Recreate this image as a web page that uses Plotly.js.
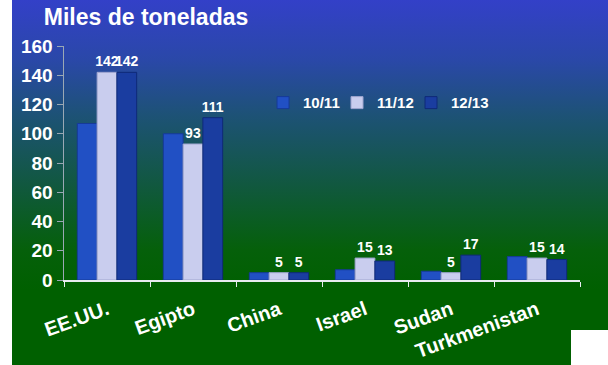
<!DOCTYPE html>
<html>
<head>
<meta charset="utf-8">
<script src="https://cdn.plot.ly/plotly-3.0.1.min.js"></script>
<style>
html,body{margin:0;padding:0;background:#ffffff;}
#wrap{position:relative;width:608px;height:365px;background:#ffffff;}
#bg{position:absolute;left:12px;top:0;width:596px;height:365px;
 background:linear-gradient(to bottom,#3340c8 0px,#2a48a8 60px,#1d5276 115px,#11583f 185px,#05600a 250px,#006000 290px,#006000 365px);}
#logo{position:absolute;left:571px;top:330px;width:37px;height:35px;background:#ffffff;}
#chart{position:absolute;left:0;top:0;width:608px;height:365px;}
</style>
</head>
<body>
<div id="wrap"><div id="bg"></div><div id="logo"></div><div id="chart"></div></div>
<script>
const categories = ["EE.UU.", "Egipto", "China", "Israel", "Sudan", "Turkmenistan"];
const seriesNames = ["10/11", "11/12", "12/13"];
const v1011 = [107, 100, 5, 7, 6, 16];
const v1112 = [142, 93, 5, 15, 5, 15];
const v1213 = [142, 111, 5, 13, 17, 14];
const yTicks = [0, 20, 40, 60, 80, 100, 120, 140, 160];

const labelFont = {family: "Liberation Sans, Arial, sans-serif", size: 14, color: "#ffffff", weight: "bold"};
const legFont = {size: 15, color: "#ffffff", weight: "bold"};

const traces = [
  {type: "bar", name: seriesNames[0], x: categories, y: v1011, legend: "legend",
   marker: {color: "#2150c4", line: {color: "#163a98", width: 1}}},
  {type: "bar", name: seriesNames[1], x: categories, y: v1112, legend: "legend2",
   text: v1112.map(String), textposition: "outside", textfont: labelFont,
   constraintext: "none", cliponaxis: false,
   marker: {color: "#c9cdee", line: {color: "#9ea4cf", width: 1}}},
  {type: "bar", name: seriesNames[2], x: categories, y: v1213, legend: "legend3",
   text: v1213.map(String), textposition: "outside", textfont: labelFont,
   constraintext: "none", cliponaxis: false,
   marker: {color: "#1a3da0", line: {color: "#0f2a78", width: 1}}}
];

function leg(x) {
  return {orientation: "h", x: x, xanchor: "left", y: 0.757, yanchor: "middle",
          bgcolor: "rgba(0,0,0,0)", font: legFont, itemwidth: 30};
}

const layout = {
  width: 608, height: 365,
  paper_bgcolor: "rgba(0,0,0,0)", plot_bgcolor: "rgba(0,0,0,0)",
  margin: {l: 64, r: 28, t: 46, b: 85, autoexpand: false},
  barmode: "group", bargap: 0.31, bargroupgap: 0,
  font: {family: "Liberation Sans, Arial, sans-serif", color: "#ffffff"},
  title: {text: "<b>Miles de toneladas</b>", font: {size: 23, color: "#ffffff"},
          xref: "container", yref: "container", x: 0.072, xanchor: "left", y: 0.953, yanchor: "middle"},
  showlegend: true,
  legend: leg(0.3857), legend2: leg(0.5291), legend3: leg(0.6725),
  xaxis: {type: "category", range: [-0.5, 5.5], showgrid: false, zeroline: false,
          showline: true, linecolor: "#e8ecf0", linewidth: 1.5,
          ticks: "outside", tickson: "boundaries", ticklen: 5, tickcolor: "#e8ecf0",
          tickangle: -20, ticklabelstandoff: 9,
          tickfont: {size: 20, color: "#ffffff", weight: "bold"}},
  yaxis: {range: [0, 160], tickvals: yTicks, showgrid: false, zeroline: false,
          showline: true, linecolor: "#9aa8b4", linewidth: 1.5,
          ticks: "outside", ticklen: 6, tickcolor: "#9aa8b4",
          tickfont: {size: 19, color: "#ffffff", weight: "bold"}}
};

Plotly.newPlot("chart", traces, layout, {displayModeBar: false, staticPlot: true});
</script>
</body>
</html>
